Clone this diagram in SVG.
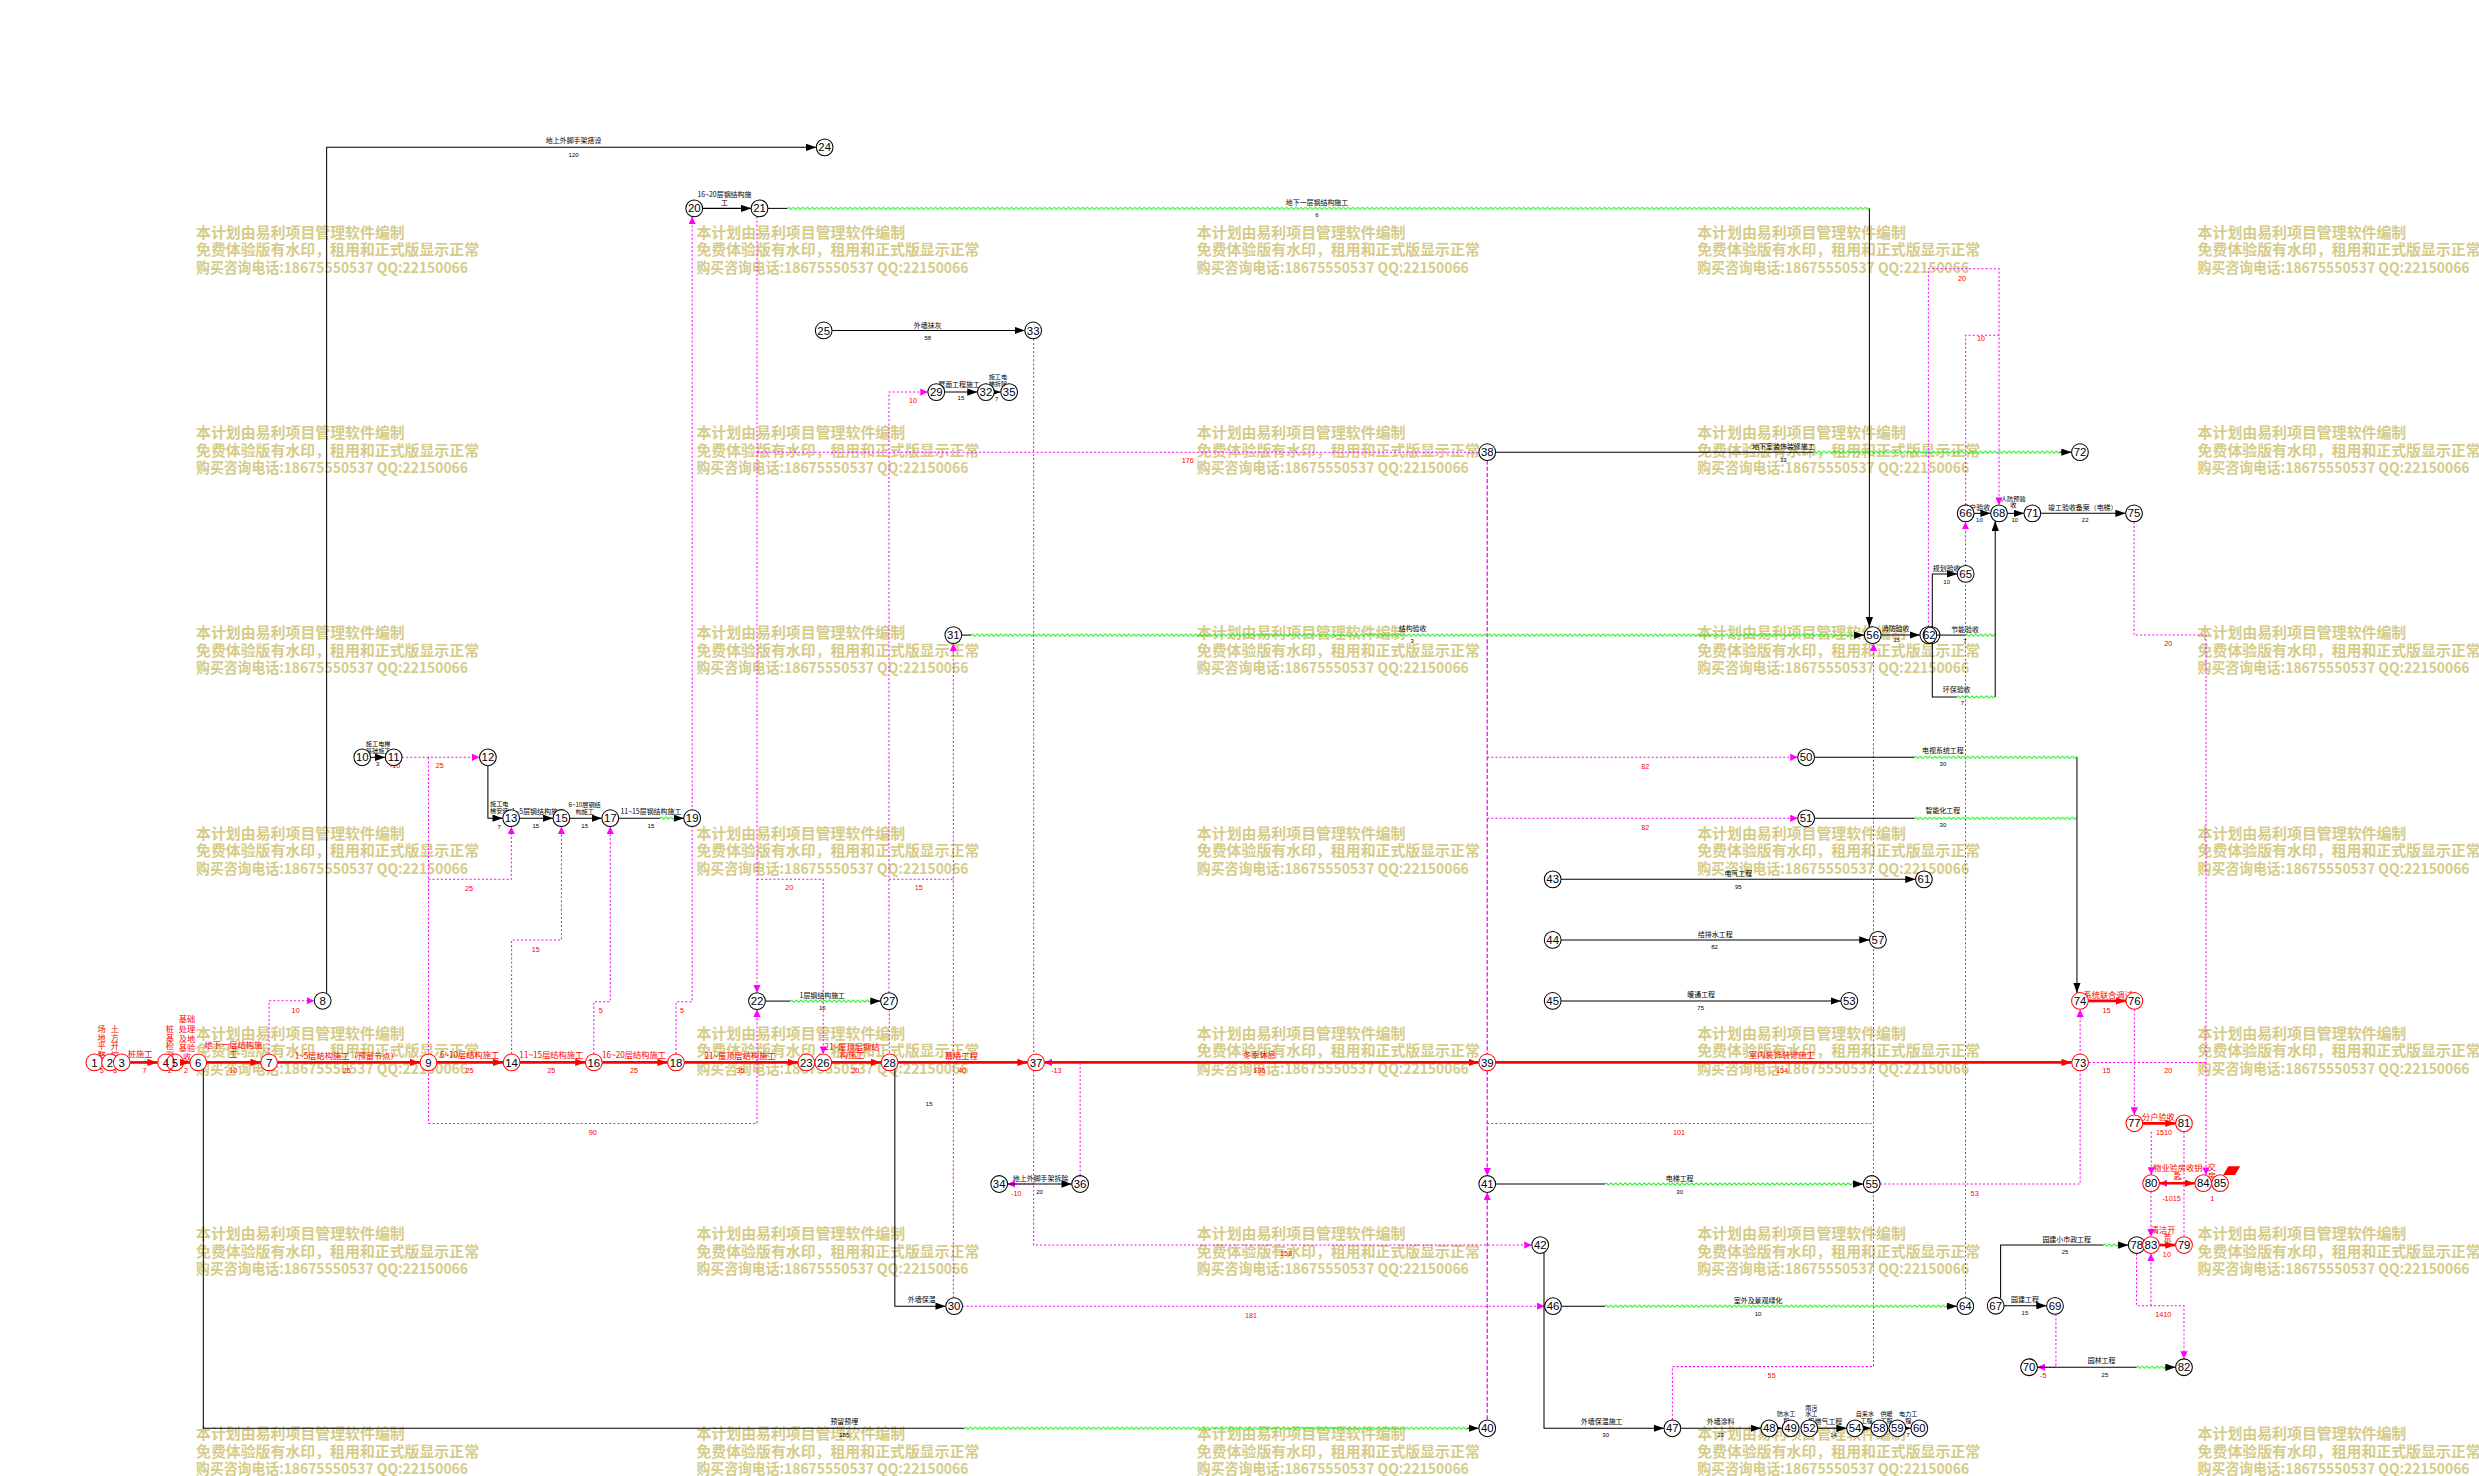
<svg xmlns="http://www.w3.org/2000/svg" width="2479" height="1476" viewBox="0 0 2479 1476">
<style>
.k{fill:none;stroke:#000;stroke-width:.65}
.r{fill:none;stroke:#f00;stroke-width:1.7}
.m{fill:none;stroke:#f0f;stroke-width:.65;stroke-dasharray:1.3 1.3}
.md{fill:none;stroke:#f0f;stroke-width:.8;stroke-dasharray:2.6 1.3}
.ka{marker-end:url(#ak)}
.ra{marker-end:url(#ar)}
.ma{marker-end:url(#am)}
.g{fill:url(#wv)}
.nd circle{fill:#fff;stroke:#000;stroke-width:.65}
.nd.c circle{stroke:#f00}
.nd text{font-family:"Liberation Sans",Arial,sans-serif;font-size:7.2px;text-anchor:middle;fill:#001}
.rl{font-family:"Noto Sans CJK SC",sans-serif;font-size:5.2px;fill:#f00;text-anchor:middle}
.bl{font-family:"Noto Sans CJK SC",sans-serif;font-size:4.4px;fill:#000;text-anchor:middle}
.bs{font-family:"Noto Sans CJK SC",sans-serif;font-size:3.9px;fill:#000;text-anchor:middle}
.bd{font-family:"Liberation Sans",Arial,sans-serif;font-size:3.8px;fill:#000;text-anchor:middle}
.rd{font-family:"Liberation Sans",Arial,sans-serif;font-size:4.6px;fill:#f00;text-anchor:middle}
</style>
<defs>
<marker id="ak" viewBox="0 0 6.5 4.6" refX="6.5" refY="2.3" markerWidth="6.5" markerHeight="4.6" orient="auto" markerUnits="userSpaceOnUse"><path d="M0,0L6.5,2.3L0,4.6z" fill="#000"/></marker>
<marker id="ar" viewBox="0 0 6.5 4.6" refX="6.5" refY="2.3" markerWidth="6.5" markerHeight="4.6" orient="auto" markerUnits="userSpaceOnUse"><path d="M0,0L6.5,2.3L0,4.6z" fill="#f00"/></marker>
<marker id="am" viewBox="0 0 4.8 4.6" refX="4.8" refY="2.3" markerWidth="4.8" markerHeight="4.6" orient="auto" markerUnits="userSpaceOnUse"><path d="M0,0L4.8,2.3L0,4.6z" fill="#f0f"/></marker>
<pattern id="wv" patternUnits="userSpaceOnUse" x="0" y="-1.2" width="3" height="2.4"><path d="M0,1.2Q.75,-.1 1.5,1.2T3,1.2" fill="none" stroke="#00f000" stroke-width=".65"/></pattern>
<g id="wmb" font-family="'Noto Sans CJK SC', sans-serif" font-size="9.4" font-weight="bold" fill="#d6cc8a">
<text x="0" y="0" textLength="132" lengthAdjust="spacingAndGlyphs">本计划由易利项目管理软件编制</text>
<text x="0" y="11.07" textLength="179" lengthAdjust="spacingAndGlyphs">免费体验版有水印，租用和正式版显示正常</text>
<text x="0" y="22.14" textLength="172" lengthAdjust="spacingAndGlyphs">购买咨询电话:18675550537 QQ:22150066</text>
</g>
</defs>
<rect width="2479" height="1476" fill="#fff"/>
<g transform="scale(1.581)">
<g id="watermark">
<use href="#wmb" x="124" y="150.4"/><use href="#wmb" x="440.5" y="150.4"/><use href="#wmb" x="757" y="150.4"/><use href="#wmb" x="1073.5" y="150.4"/><use href="#wmb" x="1390" y="150.4"/>
<use href="#wmb" x="124" y="277.1"/><use href="#wmb" x="440.5" y="277.1"/><use href="#wmb" x="757" y="277.1"/><use href="#wmb" x="1073.5" y="277.1"/><use href="#wmb" x="1390" y="277.1"/>
<use href="#wmb" x="124" y="403.7"/><use href="#wmb" x="440.5" y="403.7"/><use href="#wmb" x="757" y="403.7"/><use href="#wmb" x="1073.5" y="403.7"/><use href="#wmb" x="1390" y="403.7"/>
<use href="#wmb" x="124" y="530.4"/><use href="#wmb" x="440.5" y="530.4"/><use href="#wmb" x="757" y="530.4"/><use href="#wmb" x="1073.5" y="530.4"/><use href="#wmb" x="1390" y="530.4"/>
<use href="#wmb" x="124" y="657.1"/><use href="#wmb" x="440.5" y="657.1"/><use href="#wmb" x="757" y="657.1"/><use href="#wmb" x="1073.5" y="657.1"/><use href="#wmb" x="1390" y="657.1"/>
<use href="#wmb" x="124" y="783.7"/><use href="#wmb" x="440.5" y="783.7"/><use href="#wmb" x="757" y="783.7"/><use href="#wmb" x="1073.5" y="783.7"/><use href="#wmb" x="1390" y="783.7"/>
<use href="#wmb" x="124" y="910.4"/><use href="#wmb" x="440.5" y="910.4"/><use href="#wmb" x="757" y="910.4"/><use href="#wmb" x="1073.5" y="910.4"/><use href="#wmb" x="1390" y="910.4"/>
</g>
<g id="connectors">
<path class="m ma" d="M170.2,666.7V633H198.8"/>
<path class="m ma" d="M254.3,479H303.3"/>
<path class="m" d="M271,479V710.6"/>
<path class="m ma" d="M271,556.2H323.4V522.8"/>
<path class="m ma" d="M323.6,666.7V594.6H355.1V522.8"/>
<path class="m ma" d="M375.6,666.7V633.6H386V522.8"/>
<path class="m ma" d="M427.6,666.7V633.6H437.8V137"/>
<path class="m ma" d="M271,710.6H478.8V638.5"/>
<path class="m ma" d="M478.8,137V627.9"/>
<path class="m" d="M478.8,286H935.4"/>
<path class="m ma" d="M478.8,556.2H520.7V666.7"/>
<path class="m ma" d="M562.3,627.9V248H586.9"/>
<path class="m" d="M562.3,556.2H603"/>
<path class="m ma" d="M603,820.9V407"/>
<path class="m" d="M562.5,638.5V666.7"/>
<path class="m ma" d="M653.8,214.3V787.5H968.9"/>
<path class="m ma" d="M653.8,748.9H637.3"/>
<path class="m ma" d="M683.2,743.6V672H660.6"/>
<path class="m ma" d="M608.8,826.2H977"/>
<path class="md" d="M940.7,291.3V666.7"/>
<path class="md ma" d="M940.7,677.3V743.6"/>
<path class="md ma" d="M940.7,897.7V754.2"/>
<path class="m ma" d="M940.7,479H1137.1"/>
<path class="m ma" d="M940.7,517.6H1137.1"/>
<path class="m" d="M940.7,710.6H1185"/>
<path class="m ma" d="M1057.8,898.1V864.4H1185V407"/>
<path class="m ma" d="M1243.2,820.9V330"/>
<path class="m ma" d="M1219.7,396.4V170H1264.4V319.4"/>
<path class="m" d="M1243.3,319.4V212H1264.4"/>
<path class="m ma" d="M1349.8,330V401.7H1395.3V743.2"/>
<path class="m ma" d="M1189.2,748.9H1315.7V638.4"/>
<path class="m" d="M1321,672H1395.3"/>
<path class="m ma" d="M1350,638.4V705.2"/>
<path class="m ma" d="M1360.7,715.8V743.1"/>
<path class="m" d="M1381.4,715.8V782.2"/>
<path class="m ma" d="M1381.4,748.4H1366"/>
<path class="m ma" d="M1360.5,753.7V782.2"/>
<path class="m ma" d="M1351.4,792.8V825.9H1381.4V859.5"/>
<path class="m ma" d="M1360.5,825.9V792.8"/>
<path class="m ma" d="M1300.4,831.3V864.8H1288.7"/>
<rect class="g" transform="translate(417.5,517.5)" y="-1.2" width="8.7" height="2.4"/>
<rect class="g" transform="translate(498,131.8)" y="-1.2" width="684.4" height="2.4"/>
<rect class="g" transform="translate(499.9,633.2)" y="-1.2" width="50.6" height="2.4"/>
<rect class="g" transform="translate(614.3,401.7)" y="-1.2" width="560.1" height="2.4"/>
<rect class="g" transform="translate(1147,286)" y="-1.2" width="155.7" height="2.4"/>
<rect class="g" transform="translate(1243,401.7)" y="-1.2" width="19" height="2.4"/>
<rect class="g" transform="translate(1237.6,440.8)" y="-1.2" width="24.4" height="2.4"/>
<rect class="g" transform="translate(1210.9,479)" y="-1.2" width="102.8" height="2.4"/>
<rect class="g" transform="translate(1210.9,517.6)" y="-1.2" width="102.8" height="2.4"/>
<rect class="g" transform="translate(1015.2,748.9)" y="-1.2" width="161.3" height="2.4"/>
<rect class="g" transform="translate(1015.2,826.2)" y="-1.2" width="215.8" height="2.4"/>
<rect class="g" transform="translate(610,903.4)" y="-1.2" width="318" height="2.4"/>
<rect class="g" transform="translate(1330.4,787.5)" y="-1.2" width="9.5" height="2.4"/>
<rect class="g" transform="translate(1351.4,864.8)" y="-1.2" width="17.9" height="2.4"/>
<path class="k ka" d="M206.6,628.3V93.2H516.3"/>
<path class="k ka" d="M234.4,479H243.7"/>
<path class="k ka" d="M308.6,484.3V517.5H318"/>
<path class="k ka" d="M328.6,517.5H349.8"/>
<path class="k ka" d="M360.4,517.5H380.7"/>
<path class="k" d="M391.3,517.5H417.5"/>
<path class="k ka" d="M426.2,517.5H432.5"/>
<path class="k ka" d="M444.4,131.8H475.1"/>
<path class="k" d="M485.7,131.8H498"/>
<path class="k ka" d="M1182.4,131.8V396.8"/>
<path class="k" d="M484.1,633.2H499.9"/>
<path class="k ka" d="M550.5,633.2H557"/>
<path class="k ka" d="M526.3,209H648.2"/>
<path class="k ka" d="M597.5,248H618.3"/>
<path class="k ka" d="M628.9,248H633"/>
<path class="k" d="M608.3,401.7H614.3"/>
<path class="k ka" d="M1174.4,401.7H1179.2"/>
<path class="k" d="M946,286H1147"/>
<path class="k ka" d="M1302.7,286H1310.3"/>
<path class="k ka" d="M1189.8,401.7H1214.4"/>
<path class="k ka" d="M1222.2,397V363H1238"/>
<path class="k" d="M1225,401.7H1243"/>
<path class="k" d="M1222.2,406.4V440.8H1237.6"/>
<path class="k ka" d="M1262,440.8V329.4"/>
<path class="k ka" d="M1248.6,324.7H1259.1"/>
<path class="k ka" d="M1269.7,324.7H1280.2"/>
<path class="k ka" d="M1290.8,324.7H1344.5"/>
<path class="k" d="M1147.7,479H1210.9"/>
<path class="k ka" d="M1313.7,479V628.1"/>
<path class="k" d="M1147.7,517.6H1210.9"/>
<path class="k ka" d="M987.4,556.2H1211.6"/>
<path class="k ka" d="M987.4,594.5H1182.5"/>
<path class="k ka" d="M987.4,633.1H1164.4"/>
<path class="k" d="M945.9,748.9H1015.2"/>
<path class="k ka" d="M1174.5,748.9H1178.6"/>
<path class="k" d="M987.6,826.2H1015.2"/>
<path class="k ka" d="M1231,826.2H1237.8"/>
<path class="k ka" d="M637.3,748.9H677.9"/>
<path class="k ka" d="M976.6,792.2V903.4H1052.5"/>
<path class="k ka" d="M1063.1,903.4H1113.8"/>
<path class="k ka" d="M1124.4,903.4H1127.3"/>
<path class="k ka" d="M1149.7,903.4H1168"/>
<path class="k ka" d="M1178.6,903.4H1183.4"/>
<path class="k ka" d="M1205.4,903.4H1208.7"/>
<path class="k" d="M128.6,676.2V903.4H610"/>
<path class="k ka" d="M928,903.4H935.4"/>
<path class="k ka" d="M566,676.1V826.2H598.2"/>
<path class="k" d="M1265.4,821.2V787.5H1330.4"/>
<path class="k ka" d="M1339.9,787.5H1346.2"/>
<path class="k ka" d="M1267.6,825.9H1294.5"/>
<path class="k" d="M1288.7,864.8H1351.4"/>
<path class="k ka" d="M1369.3,864.8H1376.1"/>
<path class="r" d="M59.7,672H77"/>
<path class="r ra" d="M82.3,672H99.7"/>
<path class="r ra" d="M116,672H120.1"/>
<path class="r ra" d="M130.7,672H164.9"/>
<path class="r ra" d="M175.5,672H265.7"/>
<path class="r ra" d="M276.3,672H318.3"/>
<path class="r ra" d="M328.9,672H370.3"/>
<path class="r ra" d="M380.9,672H422.3"/>
<path class="r ra" d="M432.9,672H504.7"/>
<path class="r ra" d="M526,672H557.4"/>
<path class="r ra" d="M568,672H650"/>
<path class="r ra" d="M660.6,672H935.4"/>
<path class="r ra" d="M946,672H1310.4"/>
<path class="r ra" d="M1320.9,633.1H1344.7"/>
<path class="r ra" d="M1355.3,710.5H1376.1"/>
<path class="r ra" d="M1365.9,748.4H1388.3"/>
<path class="r ra" d="M1365.8,787.5H1376.1"/>
</g>
<g id="labels">
<text class="rl" x="64.3" y="652.8">场</text><text class="rl" x="64.3" y="658.5">地</text><text class="rl" x="64.3" y="663.8">平</text><text class="rl" x="64.3" y="669.1">整</text>
<text class="rl" x="72.7" y="652.8">土</text><text class="rl" x="72.7" y="658.5">方</text><text class="rl" x="72.7" y="663.8">开</text><text class="rl" x="72.7" y="669.1">挖</text>
<text class="rl" x="107.5" y="652.8">桩</text><text class="rl" x="107.5" y="658.5">基</text><text class="rl" x="107.5" y="663.8">检</text><text class="rl" x="107.5" y="669.1">测</text>
<text class="rl" x="118.3" y="646.5">基础</text><text class="rl" x="118.3" y="652.8">处理</text><text class="rl" x="118.3" y="659.2">及地</text><text class="rl" x="118.3" y="664.8">基验</text><text class="rl" x="118.3" y="670.2">收</text>
<text class="rl" x="88.6" y="668.5">桩施工</text>
<text class="rl" x="147.6" y="662.8">地下一层结构施</text><text class="rl" x="147.6" y="668.5">工</text>
<text class="rl" x="219.3" y="669.8">1~5层结构施工（预留节点）</text>
<text class="rl" x="297" y="669.2">6~10层结构施工</text>
<text class="rl" x="348.7" y="669.2">11~15层结构施工</text>
<text class="rl" x="401" y="669.2">16~20层结构施工</text>
<text class="rl" x="468.1" y="669.6">21~屋顶层结构施工</text>
<text class="rl" x="538.9" y="663.9">21~屋顶层钢结</text><text class="rl" x="538.9" y="669.2">构施工</text>
<text class="rl" x="608" y="670">幕墙工程</text>
<text class="rl" x="796.6" y="669.1">冬季休息</text>
<text class="rl" x="1127.1" y="669.1">室内装饰装修施工</text>
<text class="rl" x="1333.4" y="631.1">系统联合调试</text>
<text class="rl" x="1365.2" y="708.1">分户验收</text>
<text class="rl" x="1377.5" y="740.8">物业验房收钥</text><text class="rl" x="1377.5" y="746">匙</text>
<text class="rl" x="1399" y="740.2">交</text><text class="rl" x="1399" y="745.7">房</text>
<text class="rl" x="1368.2" y="779.8">清洁开</text><text class="rl" x="1371" y="785.1">荒</text>
<text class="rd" x="64.3" y="678.6">5</text><text class="rd" x="72.7" y="678.6">3</text><text class="rd" x="91.4" y="678.6">7</text><text class="rd" x="107.5" y="678.6">2</text><text class="rd" x="117.6" y="678.6">2</text>
<text class="rd" x="147.6" y="678.6">10</text><text class="rd" x="219.3" y="678.6">25</text><text class="rd" x="297" y="678.9">25</text><text class="rd" x="348.7" y="678.9">25</text><text class="rd" x="401" y="678.9">25</text>
<text class="rd" x="468.4" y="678.9">35</text><text class="rd" x="541" y="678.9">20</text><text class="rd" x="608.5" y="678.8">40</text><text class="rd" x="796.6" y="678.8">135</text><text class="rd" x="1127.1" y="678.8">154</text>
<text class="rd" x="187" y="640.6">10</text>
<text class="rd" x="249.9" y="486">-10</text><text class="rd" x="278.2" y="486">25</text>
<text class="rd" x="296.7" y="563.5">25</text><text class="rd" x="338.9" y="601.9">15</text><text class="rd" x="380" y="640.5">5</text><text class="rd" x="431.4" y="640.5">5</text>
<text class="rd" x="375" y="717.6">90</text><text class="rd" x="499.3" y="563">20</text><text class="rd" x="581.1" y="563">15</text><text class="rd" x="577.5" y="254.6">10</text>
<text class="rd" x="751.3" y="293.1">176</text><text class="rd" x="642.9" y="756.3">-10</text><text class="rd" x="668.2" y="678.8">-13</text><text class="rd" x="813.5" y="794.7">158</text>
<text class="rd" x="791.3" y="833.4">181</text><text class="rd" x="1040.7" y="486.1">82</text><text class="rd" x="1040.7" y="524.8">82</text><text class="rd" x="1062" y="717.6">101</text>
<text class="rd" x="1120.6" y="871.7">55</text><text class="rd" x="1249" y="756.4">53</text><text class="rd" x="1241" y="177.6">20</text><text class="rd" x="1253" y="215.6">10</text>
<text class="rd" x="1371.5" y="408.9">20</text><text class="rd" x="1332.4" y="678.8">15</text><text class="rd" x="1371.5" y="678.8">20</text><text class="rd" x="1332.4" y="640.8">15</text>
<text class="rd" x="1368.8" y="718.1">1510</text><text class="rd" x="1373.5" y="759.4">-1015</text><text class="rd" x="1399.3" y="759.8">1</text><text class="rd" x="1370.6" y="794.9">10</text>
<text class="rd" x="1368.3" y="833.3">1410</text><text class="rd" x="1292.4" y="871.9">-5</text>
<text class="bl" x="362.8" y="90.7">地上外脚手架搭设</text><text class="bd" x="362.8" y="99.1">120</text>
<text class="bl" x="458.2" y="124.8">16~20层钢结构施</text><text class="bl" x="458.2" y="129.5">工</text>
<text class="bl" x="833" y="129.5">地下一层钢结构施工</text><text class="bd" x="833" y="137.3">6</text>
<text class="bl" x="586.8" y="207.4">外墙抹灰</text><text class="bd" x="586.8" y="215.3">58</text>
<text class="bl" x="606.6" y="245">屋面工程施工</text><text class="bd" x="607.8" y="253.3">15</text>
<text class="bs" x="631.2" y="240">施工电</text><text class="bs" x="631.2" y="244.2">梯拆除</text><text class="bd" x="630.4" y="253.9">7</text>
<text class="bs" x="239.2" y="471.8">施工电梯</text><text class="bs" x="239.2" y="476">基础施工</text><text class="bd" x="238.9" y="484.7">3</text>
<text class="bs" x="315.8" y="509.6">施工电</text><text class="bs" x="315.8" y="514.3">梯安装</text><text class="bd" x="315.8" y="524.1">7</text>
<text class="bl" x="340.4" y="514.8">1~5层钢结构施工</text><text class="bd" x="338.9" y="523.5">15</text>
<text class="bs" x="369.8" y="510.3">6~10层钢结</text><text class="bs" x="369.8" y="514.8">构施工</text><text class="bd" x="369.8" y="523.5">15</text>
<text class="bl" x="411.7" y="514.8">11~15层钢结构施工</text><text class="bd" x="411.7" y="523.5">15</text>
<text class="bl" x="520.1" y="631.3">1层钢结构施工</text><text class="bd" x="520.1" y="639.1">10</text>
<text class="bl" x="893.5" y="399.3">结构验收</text><text class="bd" x="893.2" y="406.5">3</text>
<text class="bl" x="1128" y="284">地下室装饰装修施工</text><text class="bd" x="1128" y="292">33</text>
<text class="bl" x="1199" y="399.4">消防验收</text><text class="bd" x="1199.6" y="406.3">15</text>
<text class="bl" x="1231.3" y="361">规划验收</text><text class="bd" x="1231.3" y="369.7">10</text>
<text class="bl" x="1242.9" y="399.5">节能验收</text><text class="bd" x="1242.9" y="406.5">7</text>
<text class="bl" x="1237.6" y="437.9">环保验收</text><text class="bd" x="1241.2" y="446.2">7</text>
<text class="bl" x="1250" y="322.5">分户验收</text><text class="bd" x="1252" y="330.2">10</text>
<text class="bs" x="1273.4" y="316.7">人防预验</text><text class="bs" x="1273.4" y="320.9">收</text><text class="bd" x="1274.4" y="330.2">10</text>
<text class="bl" x="1317.4" y="322.5">竣工验收备案（电梯）</text><text class="bd" x="1318.9" y="330.2">22</text>
<text class="bl" x="1228.9" y="476">电视系统工程</text><text class="bd" x="1228.9" y="484.6">30</text>
<text class="bl" x="1228.9" y="514.5">智能化工程</text><text class="bd" x="1228.9" y="523.1">30</text>
<text class="bl" x="1099.5" y="553.9">电气工程</text><text class="bd" x="1099.5" y="562.1">95</text>
<text class="bl" x="1084.9" y="592.4">给排水工程</text><text class="bd" x="1084.5" y="600.4">82</text>
<text class="bl" x="1076" y="630.9">暖通工程</text><text class="bd" x="1075.7" y="639.1">75</text>
<text class="bl" x="658.2" y="746.8">地上外脚手架拆除</text><text class="bd" x="657.5" y="755">20</text>
<text class="bl" x="1062.4" y="746.8">电梯工程</text><text class="bd" x="1062.4" y="755.5">30</text>
<text class="bl" x="1112" y="824.1">室外及景观绿化</text><text class="bd" x="1112" y="832.5">10</text>
<text class="bl" x="1013.1" y="900.7">外墙保温施工</text><text class="bd" x="1015.6" y="908.9">30</text>
<text class="bl" x="1088.3" y="900.7">外墙涂料</text><text class="bd" x="1088.3" y="908.9">23</text>
<text class="bs" x="1129.8" y="895.9">防水工</text><text class="bs" x="1129.8" y="900">程</text><text class="bd" x="1130.2" y="908.9">7</text>
<text class="bs" x="1145.7" y="891.8">雨污</text><text class="bs" x="1145.7" y="895.9">水工</text><text class="bs" x="1145.7" y="900">程</text>
<text class="bl" x="1156.5" y="900.7">燃气工程</text><text class="bd" x="1159.7" y="908.9">14</text>
<text class="bs" x="1179.6" y="895.9">自来水</text><text class="bs" x="1180.6" y="900.2">工程</text>
<text class="bs" x="1193.3" y="895.9">供暖</text><text class="bs" x="1193.3" y="900.2">工程</text>
<text class="bs" x="1207" y="895.9">电力工</text><text class="bs" x="1207" y="900">程</text><text class="bd" x="1207" y="908.9">7</text>
<text class="bl" x="1307.2" y="785.8">园建小市政工程</text><text class="bd" x="1306.2" y="793.4">25</text>
<text class="bl" x="1280.8" y="823.8">园建工程</text><text class="bd" x="1280.8" y="832">15</text>
<text class="bl" x="1329.3" y="862.3">园林工程</text><text class="bd" x="1331.4" y="870.9">25</text>
<text class="bl" x="583" y="823.5">外墙保温</text><text class="bd" x="587.7" y="699.6">15</text>
<text class="bl" x="534" y="900.5">预留预埋</text><text class="bd" x="534" y="909">185</text>
</g>
<g id="nodes">
<g id="n1" class="nd c"><circle cx="59.7" cy="672" r="5.3"/><text x="59.7" y="674.6">1</text></g>
<g id="n2" class="nd c"><circle cx="69.6" cy="672" r="5.3"/><text x="69.6" y="674.6">2</text></g>
<g id="n3" class="nd c"><circle cx="77" cy="672" r="5.3"/><text x="77" y="674.6">3</text></g>
<g id="n4" class="nd c"><circle cx="105" cy="672" r="5.3"/><text x="105" y="674.6">4</text></g>
<g id="n5" class="nd c"><circle cx="110.7" cy="672" r="5.3" style="fill:none"/><text x="110.7" y="674.6">5</text></g>
<g id="n6" class="nd c"><circle cx="125.4" cy="672" r="5.3"/><text x="125.4" y="674.6">6</text></g>
<g id="n7" class="nd c"><circle cx="170.2" cy="672" r="5.3"/><text x="170.2" y="674.6">7</text></g>
<g id="n8" class="nd"><circle cx="204.1" cy="633" r="5.3"/><text x="204.1" y="635.6">8</text></g>
<g id="n9" class="nd c"><circle cx="271" cy="672" r="5.3"/><text x="271" y="674.6">9</text></g>
<g id="n10" class="nd"><circle cx="229.1" cy="479" r="5.3"/><text x="229.1" y="481.6">10</text></g>
<g id="n11" class="nd"><circle cx="249" cy="479" r="5.3"/><text x="249" y="481.6">11</text></g>
<g id="n12" class="nd"><circle cx="308.6" cy="479" r="5.3"/><text x="308.6" y="481.6">12</text></g>
<g id="n13" class="nd"><circle cx="323.3" cy="517.5" r="5.3"/><text x="323.3" y="520.1">13</text></g>
<g id="n14" class="nd c"><circle cx="323.6" cy="672" r="5.3"/><text x="323.6" y="674.6">14</text></g>
<g id="n15" class="nd"><circle cx="355.1" cy="517.5" r="5.3"/><text x="355.1" y="520.1">15</text></g>
<g id="n16" class="nd c"><circle cx="375.6" cy="672" r="5.3"/><text x="375.6" y="674.6">16</text></g>
<g id="n17" class="nd"><circle cx="386" cy="517.5" r="5.3"/><text x="386" y="520.1">17</text></g>
<g id="n18" class="nd c"><circle cx="427.6" cy="672" r="5.3"/><text x="427.6" y="674.6">18</text></g>
<g id="n19" class="nd"><circle cx="437.8" cy="517.5" r="5.3"/><text x="437.8" y="520.1">19</text></g>
<g id="n20" class="nd"><circle cx="439.1" cy="131.8" r="5.3"/><text x="439.1" y="134.4">20</text></g>
<g id="n21" class="nd"><circle cx="480.4" cy="131.8" r="5.3"/><text x="480.4" y="134.4">21</text></g>
<g id="n22" class="nd"><circle cx="478.8" cy="633.2" r="5.3"/><text x="478.8" y="635.8">22</text></g>
<g id="n23" class="nd c"><circle cx="510" cy="672" r="5.3"/><text x="510" y="674.6">23</text></g>
<g id="n24" class="nd"><circle cx="521.6" cy="93.2" r="5.3"/><text x="521.6" y="95.8">24</text></g>
<g id="n25" class="nd"><circle cx="521" cy="209" r="5.3"/><text x="521" y="211.6">25</text></g>
<g id="n26" class="nd c"><circle cx="520.7" cy="672" r="5.3"/><text x="520.7" y="674.6">26</text></g>
<g id="n27" class="nd"><circle cx="562.3" cy="633.2" r="5.3"/><text x="562.3" y="635.8">27</text></g>
<g id="n28" class="nd c"><circle cx="562.7" cy="672" r="5.3"/><text x="562.7" y="674.6">28</text></g>
<g id="n29" class="nd"><circle cx="592.2" cy="248" r="5.3"/><text x="592.2" y="250.6">29</text></g>
<g id="n30" class="nd"><circle cx="603.5" cy="826.2" r="5.3"/><text x="603.5" y="828.8">30</text></g>
<g id="n31" class="nd"><circle cx="603" cy="401.7" r="5.3"/><text x="603" y="404.3">31</text></g>
<g id="n32" class="nd"><circle cx="623.6" cy="248" r="5.3"/><text x="623.6" y="250.6">32</text></g>
<g id="n33" class="nd"><circle cx="653.5" cy="209" r="5.3"/><text x="653.5" y="211.6">33</text></g>
<g id="n34" class="nd"><circle cx="632" cy="748.9" r="5.3"/><text x="632" y="751.5">34</text></g>
<g id="n35" class="nd"><circle cx="638.3" cy="248" r="5.3"/><text x="638.3" y="250.6">35</text></g>
<g id="n36" class="nd"><circle cx="683.2" cy="748.9" r="5.3"/><text x="683.2" y="751.5">36</text></g>
<g id="n37" class="nd c"><circle cx="655.3" cy="672" r="5.3"/><text x="655.3" y="674.6">37</text></g>
<g id="n38" class="nd"><circle cx="940.7" cy="286" r="5.3"/><text x="940.7" y="288.6">38</text></g>
<g id="n39" class="nd c"><circle cx="940.7" cy="672" r="5.3"/><text x="940.7" y="674.6">39</text></g>
<g id="n40" class="nd"><circle cx="940.7" cy="903.4" r="5.3"/><text x="940.7" y="906">40</text></g>
<g id="n41" class="nd"><circle cx="940.7" cy="748.9" r="5.3"/><text x="940.7" y="751.5">41</text></g>
<g id="n42" class="nd"><circle cx="974.2" cy="787.5" r="5.3"/><text x="974.2" y="790.1">42</text></g>
<g id="n43" class="nd"><circle cx="982.1" cy="556.2" r="5.3"/><text x="982.1" y="558.8">43</text></g>
<g id="n44" class="nd"><circle cx="982.1" cy="594.5" r="5.3"/><text x="982.1" y="597.1">44</text></g>
<g id="n45" class="nd"><circle cx="982.1" cy="633.1" r="5.3"/><text x="982.1" y="635.7">45</text></g>
<g id="n46" class="nd"><circle cx="982.3" cy="826.2" r="5.3"/><text x="982.3" y="828.8">46</text></g>
<g id="n47" class="nd"><circle cx="1057.8" cy="903.4" r="5.3"/><text x="1057.8" y="906">47</text></g>
<g id="n48" class="nd"><circle cx="1119.1" cy="903.4" r="5.3"/><text x="1119.1" y="906">48</text></g>
<g id="n49" class="nd"><circle cx="1132.6" cy="903.4" r="5.3"/><text x="1132.6" y="906">49</text></g>
<g id="n50" class="nd"><circle cx="1142.4" cy="479" r="5.3"/><text x="1142.4" y="481.6">50</text></g>
<g id="n51" class="nd"><circle cx="1142.4" cy="517.6" r="5.3"/><text x="1142.4" y="520.2">51</text></g>
<g id="n52" class="nd"><circle cx="1144.4" cy="903.4" r="5.3"/><text x="1144.4" y="906">52</text></g>
<g id="n53" class="nd"><circle cx="1169.7" cy="633.1" r="5.3"/><text x="1169.7" y="635.7">53</text></g>
<g id="n54" class="nd"><circle cx="1173.3" cy="903.4" r="5.3"/><text x="1173.3" y="906">54</text></g>
<g id="n55" class="nd"><circle cx="1183.9" cy="748.9" r="5.3"/><text x="1183.9" y="751.5">55</text></g>
<g id="n56" class="nd"><circle cx="1184.5" cy="401.7" r="5.3"/><text x="1184.5" y="404.3">56</text></g>
<g id="n57" class="nd"><circle cx="1187.8" cy="594.5" r="5.3"/><text x="1187.8" y="597.1">57</text></g>
<g id="n58" class="nd"><circle cx="1188.7" cy="903.4" r="5.3"/><text x="1188.7" y="906">58</text></g>
<g id="n59" class="nd"><circle cx="1200.1" cy="903.4" r="5.3"/><text x="1200.1" y="906">59</text></g>
<g id="n60" class="nd"><circle cx="1214" cy="903.4" r="5.3"/><text x="1214" y="906">60</text></g>
<g id="n61" class="nd"><circle cx="1216.9" cy="556.2" r="5.3"/><text x="1216.9" y="558.8">61</text></g>
<g id="n62" class="nd"><circle cx="1219.7" cy="401.7" r="5.3"/><circle cx="1221.7" cy="401.7" r="5.3" style="fill:none"/><text x="1220.3" y="404.3">62</text></g>
<g id="n64" class="nd"><circle cx="1243.1" cy="826.2" r="5.3"/><text x="1243.1" y="828.8">64</text></g>
<g id="n65" class="nd"><circle cx="1243.3" cy="363" r="5.3"/><text x="1243.3" y="365.6">65</text></g>
<g id="n66" class="nd"><circle cx="1243.3" cy="324.7" r="5.3"/><text x="1243.3" y="327.3">66</text></g>
<g id="n67" class="nd"><circle cx="1262.3" cy="825.9" r="5.3"/><text x="1262.3" y="828.5">67</text></g>
<g id="n68" class="nd"><circle cx="1264.4" cy="324.7" r="5.3"/><text x="1264.4" y="327.3">68</text></g>
<g id="n69" class="nd"><circle cx="1299.8" cy="826" r="5.3"/><text x="1299.8" y="828.6">69</text></g>
<g id="n70" class="nd"><circle cx="1283.4" cy="864.8" r="5.3"/><text x="1283.4" y="867.4">70</text></g>
<g id="n71" class="nd"><circle cx="1285.5" cy="324.7" r="5.3"/><text x="1285.5" y="327.3">71</text></g>
<g id="n72" class="nd"><circle cx="1315.6" cy="286" r="5.3"/><text x="1315.6" y="288.6">72</text></g>
<g id="n73" class="nd c"><circle cx="1315.7" cy="672" r="5.3"/><text x="1315.7" y="674.6">73</text></g>
<g id="n74" class="nd c"><circle cx="1315.6" cy="633.1" r="5.3"/><text x="1315.6" y="635.7">74</text></g>
<g id="n75" class="nd"><circle cx="1349.8" cy="324.7" r="5.3"/><text x="1349.8" y="327.3">75</text></g>
<g id="n76" class="nd c"><circle cx="1350" cy="633.1" r="5.3"/><text x="1350" y="635.7">76</text></g>
<g id="n77" class="nd c"><circle cx="1350" cy="710.5" r="5.3"/><text x="1350" y="713.1">77</text></g>
<g id="n78" class="nd"><circle cx="1351.5" cy="787.5" r="5.3"/><text x="1351.5" y="790.1">78</text></g>
<g id="n79" class="nd c"><circle cx="1381.4" cy="787.5" r="5.3"/><text x="1381.4" y="790.1">79</text></g>
<g id="n80" class="nd c"><circle cx="1360.6" cy="748.4" r="5.3"/><text x="1360.6" y="751">80</text></g>
<g id="n81" class="nd c"><circle cx="1381.4" cy="710.5" r="5.3"/><text x="1381.4" y="713.1">81</text></g>
<g id="n82" class="nd"><circle cx="1381.4" cy="864.8" r="5.3"/><text x="1381.4" y="867.4">82</text></g>
<g id="n83" class="nd c"><circle cx="1360.5" cy="787.5" r="5.3"/><text x="1360.5" y="790.1">83</text></g>
<g id="n84" class="nd c"><circle cx="1393.6" cy="748.4" r="5.3"/><text x="1393.6" y="751">84</text></g>
<g id="n85" class="nd c"><circle cx="1404.2" cy="748.4" r="5.3"/><text x="1404.2" y="751">85</text><polygon points="1409.4,737.6 1417,737.6 1413.6,743.2 1406.2,743.2" fill="#f00"/></g>
</g>
</g>
</svg>
